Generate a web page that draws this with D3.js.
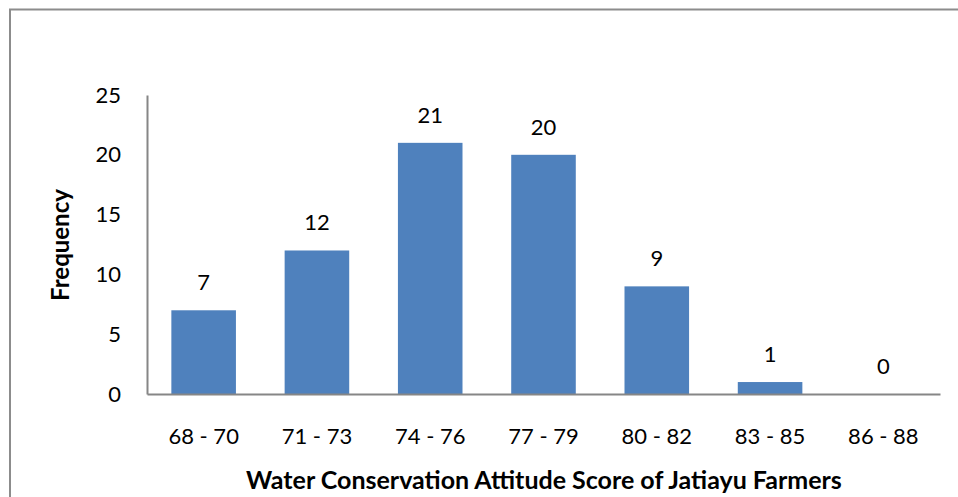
<!DOCTYPE html>
<html>
<head>
<meta charset="utf-8">
<script src="https://cdn.jsdelivr.net/npm/d3@7"></script>
<style>
  body { margin: 0; background: #fff; }
  svg { display: block; font-family: Lato, "Open Sans", sans-serif; }
</style>
</head>
<body>
<svg id="chart" width="958" height="497"></svg>
<script>
const categories = ['68 - 70', '71 - 73', '74 - 76', '77 - 79', '80 - 82', '83 - 85', '86 - 88'];
const frequencies = [7, 12, 21, 20, 9, 1, 0];
const yTicks = [0, 5, 10, 15, 20, 25];

const svg = d3.select('#chart');

// outer chart border, runs off the right and bottom edges
svg.append('rect')
  .attr('x', 10).attr('y', 9.5)
  .attr('width', 1000).attr('height', 600)
  .attr('fill', 'none')
  .attr('stroke', '#8c8c8c')
  .attr('stroke-width', 2);

const plotLeft = 147, plotRight = 940, plotTop = 95, plotBottom = 394;

const x = d3.scaleBand()
  .domain(categories)
  .range([plotLeft, plotRight])
  .paddingInner(0.43)
  .paddingOuter(0.215);

const y = d3.scaleLinear()
  .domain([0, 25])
  .range([plotBottom, plotTop]);

// y axis
const yAxis = svg.append('g')
  .attr('transform', 'translate(' + plotLeft + ',0)')
  .call(d3.axisLeft(y).tickValues(yTicks).tickSize(0).tickPadding(26));
yAxis.select('.domain').attr('stroke', '#868686').attr('stroke-width', 2);
yAxis.selectAll('text')
  .attr('font-size', 22)
  .attr('font-family', 'Lato, "Open Sans", sans-serif')
  .attr('fill', '#000');

// bars
svg.append('g').selectAll('rect')
  .data(frequencies)
  .enter()
  .append('rect')
  .attr('x', (d, i) => x(categories[i]))
  .attr('y', d => y(d))
  .attr('width', x.bandwidth())
  .attr('height', d => plotBottom - y(d))
  .attr('fill', '#4f81bd');

// value labels
svg.append('g').selectAll('text')
  .data(frequencies)
  .enter()
  .append('text')
  .attr('x', (d, i) => x(categories[i]) + x.bandwidth() / 2)
  .attr('y', d => y(d) - 20)
  .attr('text-anchor', 'middle')
  .attr('font-size', 22)
  .text(d => d);

// x axis
const xAxis = svg.append('g')
  .attr('transform', 'translate(0,' + plotBottom + ')')
  .call(d3.axisBottom(x).tickSize(0).tickPadding(34));
xAxis.select('.domain').attr('stroke', '#868686').attr('stroke-width', 2);
xAxis.selectAll('text')
  .attr('font-size', 22)
  .attr('font-family', 'Lato, "Open Sans", sans-serif')
  .attr('fill', '#000');

// axis titles
svg.append('text')
  .attr('x', 544)
  .attr('y', 489)
  .attr('text-anchor', 'middle')
  .attr('font-size', 25)
  .attr('font-weight', 'bold')
  .text('Water Conservation Attitude Score of Jatiayu Farmers');

svg.append('text')
  .attr('transform', 'translate(69,245) rotate(-90)')
  .attr('text-anchor', 'middle')
  .attr('font-size', 24)
  .attr('font-weight', 'bold')
  .text('Frequency');
</script>
</body>
</html>
